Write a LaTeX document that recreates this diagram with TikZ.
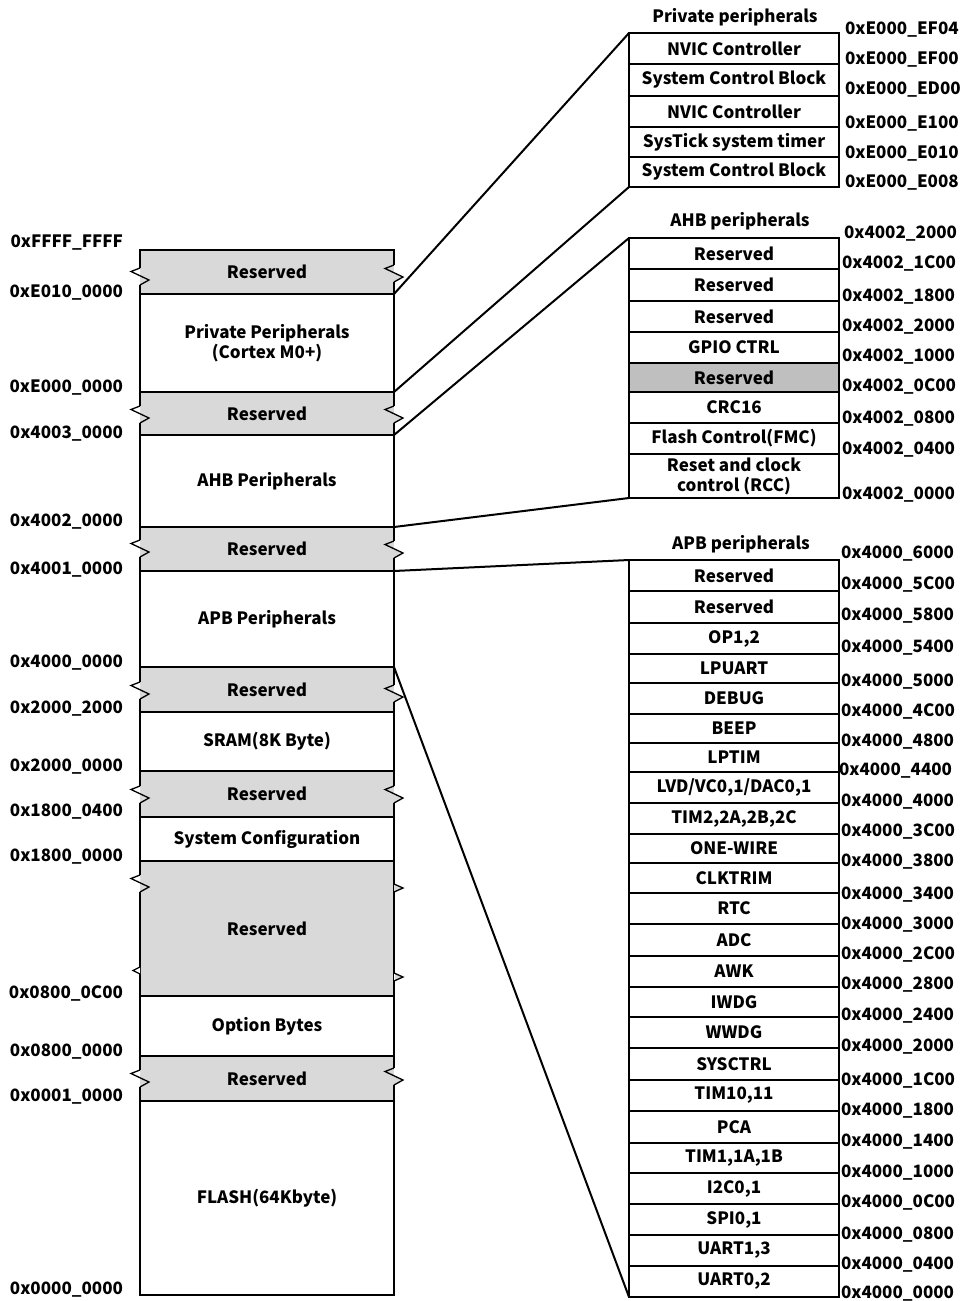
\documentclass[tikz,border=0pt]{standalone}
\usepackage{fontspec}
\setmainfont{Noto Sans CJK SC}
\definecolor{resgray}{RGB}{217,217,217}
\definecolor{darkres}{RGB}{191,191,191}
\tikzset{
  txt/.style={font=\bfseries\fontsize{17}{20}\selectfont, inner sep=0pt, outer sep=0pt},
  addrL/.style={txt, anchor=base east},
  addrR/.style={txt, anchor=base west},
  box/.style={txt, draw=black, line width=1.6pt, align=center},
  resbox/.style={box, fill=resgray},
  darkbox/.style={box, fill=darkres},
  conn/.style={line width=2pt, black},
  zz/.style={line width=1.3pt, black, line join=miter},
}
\newcommand\lblk[5]{\node[#4, minimum width=254pt, minimum height={(#3-#2)*1pt}] (#1) at (267,{(#2+#3)/2}) {#5};}
\newcommand\rblk[5]{\node[#4, minimum width=210pt, minimum height={(#3-#2)*1pt}] (#1) at (734,{(#2+#3)/2}) {#5};}
\newcommand\aL[3]{\node[addrL] (#1) at (123,{#2+6}) {#3};}
\newcommand\aR[4]{\node[addrR] (#1) at (#2,{#3+6}) {#4};}
% left edge break mark (x=140)
\newcommand\zzL[1]{%
  \fill[white] (139.1,#1) rectangle (140,{#1+17});
  \fill[resgray] (140,#1) rectangle (140.9,{#1+17});
  \fill[white] (140,#1) -- (131,{#1+3.5}) -- (140,{#1+7.75}) -- cycle;
  \draw[zz] (140,#1) -- (131,{#1+3.5}) -- (149,{#1+12}) -- (140,{#1+17});}
% right edge break mark (x=394)
\newcommand\zzR[1]{%
  \fill[resgray] (393.1,#1) rectangle (394,{#1+17});
  \fill[white] (394,#1) rectangle (394.9,{#1+17});
  \fill[resgray] (394,{#1+7.75}) -- (403,{#1+12}) -- (394,{#1+17}) -- cycle;
  \draw[zz] (394,#1) -- (385,{#1+3.5}) -- (403,{#1+12}) -- (394,{#1+17});}
\begin{document}
\begin{tikzpicture}[x=1pt,y=-1pt]
\useasboundingbox[fill=white] (0,0) rectangle (960,1301);
% ---------- left memory map ----------
\lblk{r1}{250}{294}{resbox}{Reserved}
\lblk{pp}{294}{392}{box}{Private Peripherals\\(Cortex M0+)}
\lblk{r2}{392}{435}{resbox}{Reserved}
\lblk{ahb}{435}{527}{box}{AHB Peripherals}
\lblk{r3}{527}{571}{resbox}{Reserved}
\lblk{apb}{571}{667}{box}{APB Peripherals}
\lblk{r4}{667}{712}{resbox}{Reserved}
\lblk{sram}{712}{771}{box}{SRAM(8K Byte)}
\lblk{r5}{771}{817}{resbox}{Reserved}
\lblk{sc}{817}{861}{box}{System Configuration}
\lblk{r6}{861}{996}{resbox}{Reserved}
\lblk{ob}{996}{1056}{box}{Option Bytes}
\lblk{r7}{1056}{1101}{resbox}{Reserved}
\lblk{fl}{1101}{1295}{box}{FLASH(64Kbyte)}
% break marks
\zzL{268}\zzR{265}
\zzL{406}\zzR{406}
\zzL{540}\zzR{541}
\zzL{682}\zzR{685}
\zzL{786}\zzR{786}
\zzL{875}
\zzL{1070}\zzR{1068}
% partial marks of the large reserved block
\fill[white] (394,884) rectangle (394.9,892);
\fill[resgray] (394,884) -- (403,888) -- (394,892) -- cycle;
\draw[zz] (394,884) -- (403,888) -- (394,892);
\fill[resgray] (394,973) -- (403,977) -- (394,981) -- cycle;
\fill[white] (394,973) rectangle (394.9,981);
\draw[zz] (394,973) -- (403,977) -- (394,981);
\fill[white] (139.1,967) rectangle (140,974);
\fill[white] (140,967) -- (133,970.5) -- (140,974) -- cycle;
\draw[zz] (140,967) -- (133,970.5) -- (140,974);
% left addresses
\aL{l1}{241}{0xFFFF\_FFFF}
\aL{l2}{291}{0xE010\_0000}
\aL{l3}{386}{0xE000\_0000}
\aL{l4}{432}{0x4003\_0000}
\aL{l5}{520}{0x4002\_0000}
\aL{l6}{568}{0x4001\_0000}
\aL{l7}{661}{0x4000\_0000}
\aL{l8}{707}{0x2000\_2000}
\aL{l9}{765}{0x2000\_0000}
\aL{l10}{810}{0x1800\_0400}
\aL{l11}{855}{0x1800\_0000}
\aL{l12}{992}{0x0800\_0C00}
\aL{l13}{1050}{0x0800\_0000}
\aL{l14}{1095}{0x0001\_0000}
\aL{l15}{1288}{0x0000\_0000}
% ---------- private peripherals ----------
\node[txt] (tp) at (735,17) {Private peripherals};
\rblk{c1}{33}{64}{box}{NVIC Controller}
\rblk{c2}{64}{96}{box}{System Control Block}
\rblk{c3}{96}{127}{box}{NVIC Controller}
\rblk{c4}{127}{157}{box}{SysTick system timer}
\rblk{c5}{157}{187}{box}{System Control Block}
\aR{pa1}{845}{28}{0xE000\_EF04}
\aR{pa2}{845}{58}{0xE000\_EF00}
\aR{pa3}{845}{88}{0xE000\_ED00}
\aR{pa4}{845}{122}{0xE000\_E100}
\aR{pa5}{845}{152}{0xE000\_E010}
\aR{pa6}{845}{181}{0xE000\_E008}
% ---------- AHB peripherals ----------
\node[txt] (ta) at (740,221) {AHB peripherals};
\rblk{a1}{238}{269}{box}{Reserved}
\rblk{a2}{269}{301}{box}{Reserved}
\rblk{a3}{301}{332}{box}{Reserved}
\rblk{a4}{332}{363}{box}{GPIO CTRL}
\rblk{a5}{363}{392}{darkbox}{Reserved}
\rblk{a6}{392}{423}{box}{CRC16}
\rblk{a7}{423}{454}{box}{Flash Control(FMC)}
\rblk{a8}{454}{498}{box}{Reset and clock\\control (RCC)}
\aR{aa1}{844}{232}{0x4002\_2000}
\aR{aa2}{842}{262}{0x4002\_1C00}
\aR{aa3}{842}{295}{0x4002\_1800}
\aR{aa4}{842}{325}{0x4002\_2000}
\aR{aa5}{842}{355}{0x4002\_1000}
\aR{aa6}{842}{385}{0x4002\_0C00}
\aR{aa7}{842}{417}{0x4002\_0800}
\aR{aa8}{842}{448}{0x4002\_0400}
\aR{aa9}{842}{493}{0x4002\_0000}
% ---------- APB peripherals ----------
\node[txt] (tb) at (741,544) {APB peripherals};
\rblk{b1}{560}{591}{box}{Reserved}
\rblk{b2}{591}{623}{box}{Reserved}
\rblk{b3}{623}{654}{box}{OP1,2}
\rblk{b4}{654}{683}{box}{LPUART}
\rblk{b5}{683}{714}{box}{DEBUG}
\rblk{b6}{714}{743}{box}{BEEP}
\rblk{b7}{743}{772}{box}{LPTIM}
\rblk{b8}{772}{803}{box}{LVD/VC0,1/DAC0,1}
\rblk{b9}{803}{834}{box}{TIM2,2A,2B,2C}
\rblk{b10}{834}{863}{box}{ONE-WIRE}
\rblk{b11}{863}{893}{box}{CLKTRIM}
\rblk{b12}{893}{924}{box}{RTC}
\rblk{b13}{924}{956}{box}{ADC}
\rblk{b14}{956}{987}{box}{AWK}
\rblk{b15}{987}{1017}{box}{IWDG}
\rblk{b16}{1017}{1048}{box}{WWDG}
\rblk{b17}{1048}{1080}{box}{SYSCTRL}
\rblk{b18}{1080}{1111}{box}{TIM10,11}
\rblk{b19}{1111}{1143}{box}{PCA}
\rblk{b20}{1143}{1173}{box}{TIM1,1A,1B}
\rblk{b21}{1173}{1204}{box}{I2C0,1}
\rblk{b22}{1204}{1235}{box}{SPI0,1}
\rblk{b23}{1235}{1266}{box}{UART1,3}
\rblk{b24}{1266}{1297}{box}{UART0,2}
\aR{ba1}{841}{552}{0x4000\_6000}
\aR{ba2}{841}{583}{0x4000\_5C00}
\aR{ba3}{841}{614}{0x4000\_5800}
\aR{ba4}{841}{646}{0x4000\_5400}
\aR{ba5}{841}{680}{0x4000\_5000}
\aR{ba6}{841}{710}{0x4000\_4C00}
\aR{ba7}{841}{740}{0x4000\_4800}
\aR{ba8}{839}{769}{0x4000\_4400}
\aR{ba9}{841}{800}{0x4000\_4000}
\aR{ba10}{841}{830}{0x4000\_3C00}
\aR{ba11}{841}{860}{0x4000\_3800}
\aR{ba12}{841}{893}{0x4000\_3400}
\aR{ba13}{841}{923}{0x4000\_3000}
\aR{ba14}{841}{953}{0x4000\_2C00}
\aR{ba15}{841}{983}{0x4000\_2800}
\aR{ba16}{841}{1014}{0x4000\_2400}
\aR{ba17}{841}{1045}{0x4000\_2000}
\aR{ba18}{841}{1079}{0x4000\_1C00}
\aR{ba19}{841}{1109}{0x4000\_1800}
\aR{ba20}{841}{1140}{0x4000\_1400}
\aR{ba21}{841}{1171}{0x4000\_1000}
\aR{ba22}{841}{1201}{0x4000\_0C00}
\aR{ba23}{841}{1233}{0x4000\_0800}
\aR{ba24}{841}{1263}{0x4000\_0400}
\aR{ba25}{841}{1292}{0x4000\_0000}
% ---------- connectors ----------
\draw[conn] (r1.south east) -- (c1.north west);
\draw[conn] (pp.south east) -- (c5.south west);
\draw[conn] (r2.south east) -- (a1.north west);
\draw[conn] (ahb.south east) -- (a8.south west);
\draw[conn] (r3.south east) -- (b1.north west);
\draw[conn] (apb.south east) -- (b24.south west);
\end{tikzpicture}
\end{document}
